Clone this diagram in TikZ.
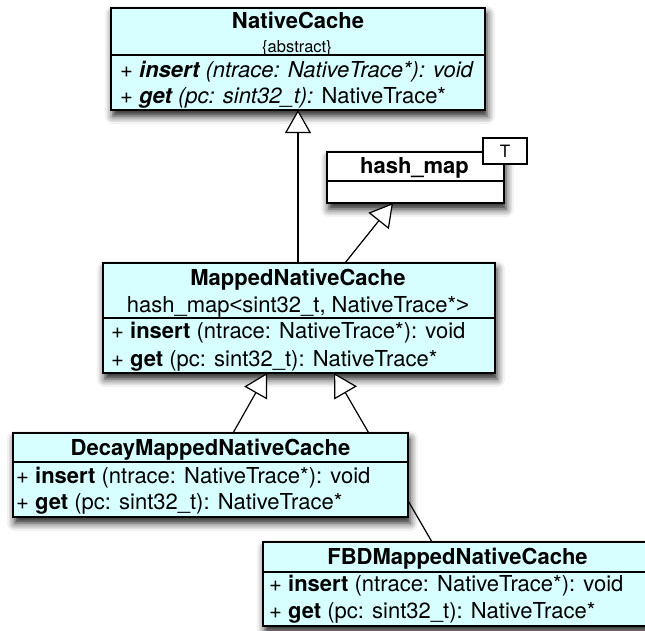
\documentclass[tikz,border=0pt]{standalone}
\usepackage{fontspec}
\setmainfont{TeX Gyre Heros}
\newfontfamily\anglefont{Liberation Sans}
\usetikzlibrary{arrows.meta,shadows.blur}
\definecolor{classfill}{RGB}{216,255,255}
\pgfdeclarelayer{front}
\pgfsetlayers{main,front}
\begin{document}
\begin{tikzpicture}[x=1pt,y=-1pt,
  font=\fontsize{22}{26}\selectfont,
  boxshadow/.style={blur shadow={shadow xshift=2pt, shadow yshift=-6pt,
      shadow blur radius=8pt, shadow opacity=90}},
  classbox/.style={draw=black, line width=1.4pt, fill=classfill,
      inner sep=0pt, outer sep=0pt, boxshadow},
  plainbox/.style={classbox, fill=white},
  parambox/.style={draw=black, line width=1.3pt, fill=white,
      inner sep=0pt, outer sep=0pt},
  title/.style={font=\fontsize{22}{26}\selectfont\bfseries, anchor=base, inner sep=0pt},
  note/.style={font=\fontsize{16.5}{19}\selectfont, anchor=base, inner sep=0pt},
  member/.style={anchor=base west, inner sep=0pt},
  sepline/.style={line width=1.2pt},
  inherit/.style={line width=1.2pt,
      -{Triangle[fill=white, length=23pt, width=26pt]}}]
\useasboundingbox (0,0) rectangle (645,630);

% NativeCache (abstract)
\node[classbox, minimum width=374pt, minimum height=102pt] (nc) at (298,59) {};
\draw[sepline] (nc.west |- 0,55) -- (nc.east |- 0,55);
\node[title] (nc-title) at (298,28) {NativeCache};
\node[note] (nc-note) at (297,52) {\{abstract\}};
\node[member] (nc-ins) at (120,77) {\itshape + \textbf{insert} (ntrace: NativeTrace*): void};
\node[member] (nc-get) at (120,103) {+ \textit{\textbf{get} (pc: sint32\_t):} NativeTrace*};

% hash_map template
\node[plainbox, minimum width=177pt, minimum height=51pt] (hm) at (415.5,177.5) {};
\draw[sepline] (hm.west |- 0,181) -- (hm.east |- 0,181);
\node[title] (hm-title) at (414.5,173) {hash\_map};
\node[parambox, minimum width=44pt, minimum height=26pt] (hm-par) at (505,151) {};
\node[font=\fontsize{17}{20}\selectfont, anchor=base, inner sep=0pt] (hm-t) at (505,157) {T};

% MappedNativeCache
\node[classbox, minimum width=392pt, minimum height=110pt] (mnc) at (299,318) {};
\draw[sepline] (mnc.west |- 0,318) -- (mnc.east |- 0,318);
\node[title] (mnc-title) at (298,285) {MappedNativeCache};
\node[anchor=base, inner sep=0pt] (mnc-sub) at (298,312)
  {hash\_map{\anglefont\textless}sint32\_t, NativeTrace*{\anglefont\textgreater}};
\node[member] (mnc-ins) at (111,338) {+ \textbf{insert} (ntrace: NativeTrace*): void};
\node[member] (mnc-get) at (111,366) {+ \textbf{get} (pc: sint32\_t): NativeTrace*};

% subclasses, kept in front of the connectors
\begin{pgfonlayer}{front}
\node[classbox, minimum width=395pt, minimum height=84pt] (d) at (210.5,475) {};
\draw[sepline] (d.west |- 0,462) -- (d.east |- 0,462);
\node[title] (d-title) at (210.5,455) {DecayMappedNativeCache};
\node[member] (d-ins) at (16,483) {+ \textbf{insert} (ntrace: NativeTrace*): void};
\node[member] (d-get) at (16,509) {+ \textbf{get} (pc: sint32\_t): NativeTrace*};

\node[classbox, minimum width=389pt, minimum height=84pt] (f) at (457.5,584) {};
\draw[sepline] (f.west |- 0,572) -- (f.east |- 0,572);
\node[title] (f-title) at (457.5,564) {FBDMappedNativeCache};
\node[member] (f-ins) at (269,591) {+ \textbf{insert} (ntrace: NativeTrace*): void};
\node[member] (f-get) at (269,618) {+ \textbf{get} (pc: sint32\_t): NativeTrace*};
\end{pgfonlayer}

% generalisations
\draw[inherit] (mnc.north -| nc.south) -- (nc.south);
\draw[inherit] ([xshift=46pt]mnc.north) -- ([xshift=-22.5pt]hm.south);
\draw[inherit] ([xshift=22.5pt]d.north) -- ([xshift=-32pt]mnc.south);
\draw[inherit] ([xshift=-25.5pt]f.north) -- ([xshift=35pt]mnc.south);
\end{tikzpicture}
\end{document}
